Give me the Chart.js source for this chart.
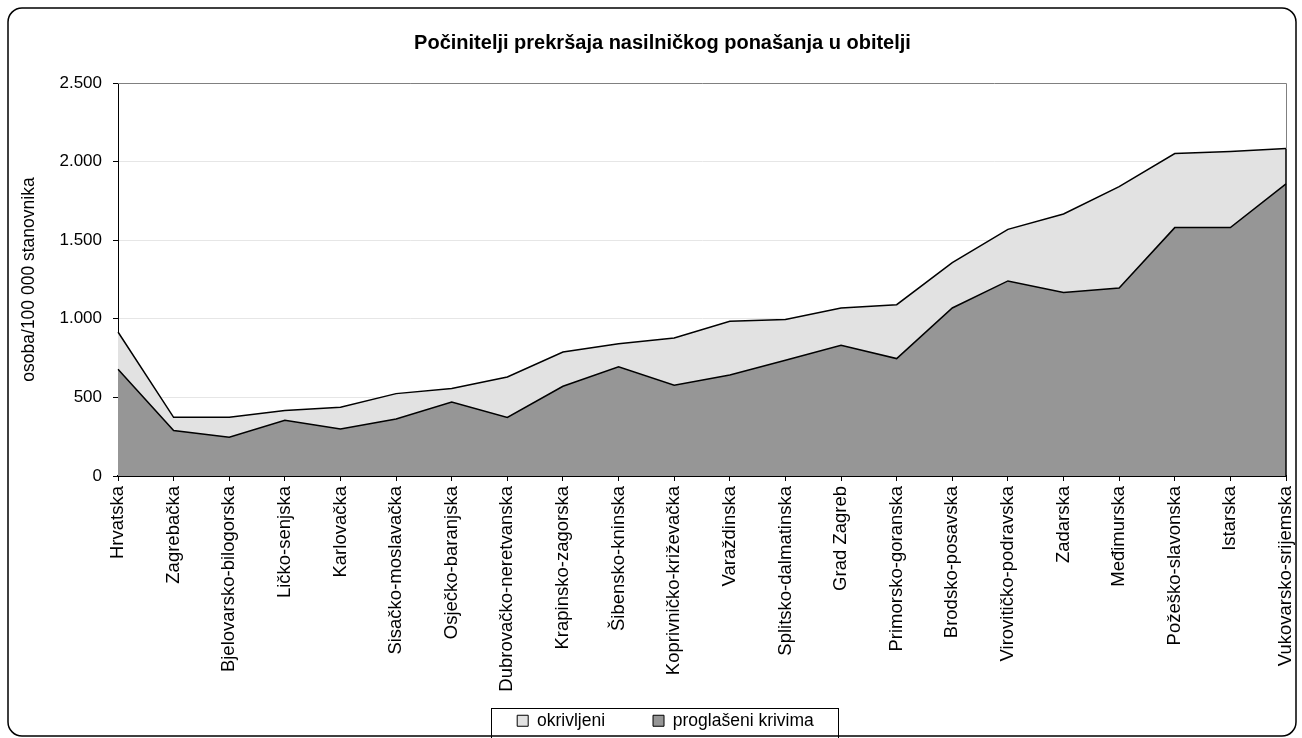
<!DOCTYPE html>
<html>
<head>
<meta charset="utf-8">
<script src="https://cdn.jsdelivr.net/npm/chart.js@4"></script>
<style>
  html, body { margin: 0; padding: 0; background: #fff; }
  #wrap { width: 1302px; height: 738px; }
</style>
</head>
<body>
<div id="wrap"><canvas id="chart" width="1302" height="738"></canvas></div>
<script>
// Županije
const categories = [
    'Hrvatska', 'Zagrebačka', 'Bjelovarsko-bilogorska', 'Ličko-senjska', 'Karlovačka',
    'Sisačko-moslavačka', 'Osječko-baranjska', 'Dubrovačko-neretvanska', 'Krapinsko-zagorska',
    'Šibensko-kninska', 'Koprivničko-križevačka', 'Varaždinska', 'Splitsko-dalmatinska',
    'Grad Zagreb', 'Primorsko-goranska', 'Brodsko-posavska', 'Virovitičko-podravska',
    'Zadarska', 'Međimurska', 'Požeško-slavonska', 'Istarska', 'Vukovarsko-srijemska'
];
const okrivljeni = [916, 373, 373, 416, 437, 524, 556, 630, 789, 842, 878, 984, 995, 1069, 1090, 1357, 1569, 1667, 1841, 2051, 2064, 2083];
const proglaseni = [679, 289, 246, 354, 299, 363, 471, 373, 571, 694, 577, 643, 736, 831, 747, 1069, 1241, 1167, 1196, 1580, 1580, 1858];
const yTicks = [0, 500, 1000, 1500, 2000, 2500];

const FONT = 'Arial, "Liberation Sans", sans-serif';
const LEGEND_PAD = 48;

function fmt(v) {
    return String(v).replace(/\B(?=(\d{3})+(?!\d))/g, '.');
}

// okvir grafikona, okvir legende, rub područja crtanja
const framePlugin = {
    id: 'frame',
    afterLayout(chart) {
        // naslov i legenda malo udesno, legenda ispod oznaka osi
        const lg = chart.legend;
        lg.top = chart.scales.x.bottom + 16 - LEGEND_PAD;
        lg.bottom = chart.height;
        lg.left += 13; lg.right += 13;
        chart.titleBlock.left += 10; chart.titleBlock.right += 10;
    },
    beforeDraw(chart) {
        const c = chart.ctx;
        c.save();
        c.fillStyle = '#fff';
        c.fillRect(0, 0, chart.width, chart.height);
        c.restore();
    },
    afterDatasetsDraw(chart) {
        const c = chart.ctx;
        const a = chart.chartArea;
        const x = chart.scales.x, y = chart.scales.y;
        c.save();
        // desni rub površine
        const last = categories.length - 1;
        c.strokeStyle = '#000';
        c.lineWidth = 1.5;
        c.beginPath();
        c.moveTo(x.getPixelForValue(last), y.getPixelForValue(okrivljeni[last]));
        c.lineTo(x.getPixelForValue(last), y.getPixelForValue(0));
        c.stroke();
        // sivi rub gore i desno
        c.strokeStyle = '#808080';
        c.lineWidth = 1;
        c.beginPath();
        c.moveTo(a.left, a.top + 0.5);
        c.lineTo(a.right + 0.5, a.top + 0.5);
        c.lineTo(a.right + 0.5, y.getPixelForValue(okrivljeni[last]));
        c.stroke();
        c.restore();
    },
    afterDraw(chart) {
        const c = chart.ctx;
        c.save();
        // vanjski zaobljeni okvir
        c.strokeStyle = '#000';
        c.lineWidth = 1.5;
        c.beginPath();
        c.roundRect(8, 8, chart.width - 14, chart.height - 10, 14);
        c.stroke();
        // okvir legende
        const hb = chart.legend.legendHitBoxes;
        if (hb && hb.length) {
            const l = hb[0].left - 26;
            const r = hb[hb.length - 1].left + hb[hb.length - 1].width + 24;
            const t = hb[0].top - 4;
            c.lineWidth = 1;
            c.strokeRect(Math.round(l) + 0.5, Math.round(t) + 0.5, Math.round(r - l), chart.height - t);
        }
        c.restore();
    }
};

new Chart(document.getElementById('chart'), {
    type: 'line',
    data: {
        labels: categories,
        datasets: [{
            label: 'okrivljeni',
            data: okrivljeni,
            order: 1,
            fill: 'origin',
            backgroundColor: '#e2e2e2',
            borderColor: '#000',
            borderWidth: 1.5,
            pointRadius: 0,
            tension: 0
        }, {
            label: 'proglašeni krivima',
            data: proglaseni,
            order: 0,
            fill: 'origin',
            backgroundColor: '#969696',
            borderColor: '#000',
            borderWidth: 1.5,
            pointRadius: 0,
            tension: 0
        }]
    },
    options: {
        responsive: false,
        animation: false,
        layout: { padding: { left: 19, right: 16, top: 8, bottom: 2 } },
        plugins: {
            title: {
                display: true,
                text: 'Počinitelji prekršaja nasilničkog ponašanja u obitelji',
                color: '#000',
                font: { family: FONT, size: 20, weight: 'bold' },
                padding: { top: 23, bottom: 28 }
            },
            legend: {
                position: 'bottom',
                maxHeight: 40,
                labels: {
                    color: '#000',
                    font: { family: FONT, size: 17.5 },
                    boxWidth: 11,
                    boxHeight: 11,
                    padding: LEGEND_PAD,
                    sort: (a, b) => a.datasetIndex - b.datasetIndex,
                    generateLabels(chart) {
                        return Chart.defaults.plugins.legend.labels.generateLabels(chart)
                            .map(l => Object.assign(l, { lineWidth: 1 }));
                    }
                }
            },
            tooltip: { enabled: false }
        },
        scales: {
            x: {
                offset: false,
                afterFit(scale) {
                    scale.height = 220;
                    scale.paddingRight = 0;
                    scale.paddingLeft = 0;
                },
                grid: { drawOnChartArea: false, tickLength: 5, tickColor: '#000', color: '#000' },
                border: { color: '#000', width: 2 },
                ticks: {
                    autoSkip: false,
                    maxRotation: 90,
                    minRotation: 90,
                    padding: 5,
                    color: '#000',
                    font: { family: FONT, size: 18.5 }
                }
            },
            y: {
                min: 0,
                max: 2500,
                afterFit(scale) { scale.width = 99; },
                afterBuildTicks(scale) { scale.ticks = yTicks.map(v => ({ value: v })); },
                grid: {
                    tickLength: 5,
                    tickColor: '#000',
                    color: ctx => (ctx.tick && (ctx.tick.value === 0 || ctx.tick.value === 2500)) ? 'rgba(0,0,0,0)' : '#e6e6e6'
                },
                border: { color: '#000', width: 1 },
                ticks: {
                    padding: 11,
                    color: '#000',
                    font: { family: FONT, size: 17 },
                    callback: v => fmt(v)
                },
                title: {
                    display: true,
                    text: 'osoba/100 000 stanovnika',
                    color: '#000',
                    font: { family: FONT, size: 17.5 },
                    padding: { top: 0, bottom: 0 }
                }
            }
        }
    },
    plugins: [framePlugin]
});
</script>
</body>
</html>
